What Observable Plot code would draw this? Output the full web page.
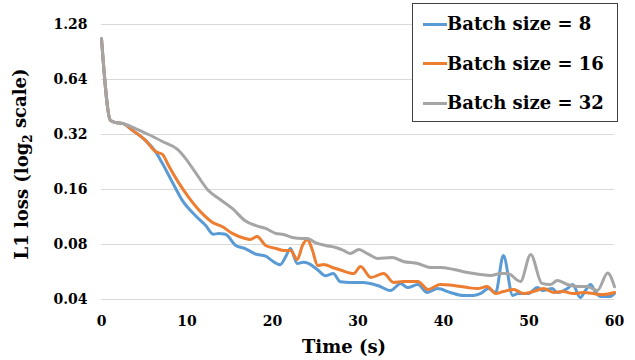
<!DOCTYPE html>
<html>
<head>
<meta charset="utf-8">
<script src="https://cdn.jsdelivr.net/npm/d3@7"></script>
<script src="https://cdn.jsdelivr.net/npm/@observablehq/plot@0.6"></script>
<style>
  body { margin: 0; background: #fff; }
  #wrap { position: relative; width: 635px; height: 360px; font-family: "DejaVu Serif", serif; font-weight: bold; }
  #legend { position: absolute; left: 412px; top: 3px; width: 204px; height: 117px; border: 1px solid #404040; background: #fff; }
  .row { position: absolute; left: 0; height: 0; }
  .swatch { position: absolute; left: 10px; top: -1.5px; width: 24px; height: 3px; }
  .lbl { position: absolute; left: 34px; top: -12px; font-size: 18px; line-height: 24px; white-space: nowrap; color: #000; }
</style>
</head>
<body>
<div id="wrap"></div>
<script>
const seriesNames = ["Batch size = 8", "Batch size = 16", "Batch size = 32"];
const seriesColors = ["#5B9BD5", "#ED7D31", "#A5A5A5"];

const time8 = [0,1.05,1.64,2.46,3.63,5.15,6.32,7.13,8.3,9.47,11.0,12.16,13.1,13.7,14.5,15.7,16.8,18.0,19.2,20.0,20.9,21.5,22.1,22.9,23.6,24.2,25.3,26.2,27.1,27.95,29.1,30.6,32.3,33.8,35.0,35.8,37.0,38.1,39.3,40.8,42.3,43.5,44.3,45.3,46.1,47.0,48.1,48.7,49.9,51.0,51.6,52.7,53.3,54.5,55.1,56.0,56.6,57.2,57.8,58.4,59.5,60];
const loss8 = [1.07,0.382,0.372,0.368,0.337,0.297,0.258,0.222,0.175,0.139,0.115,0.102,0.091,0.092,0.091,0.079,0.076,0.071,0.069,0.065,0.062,0.068,0.076,0.063,0.064,0.063,0.058,0.054,0.0555,0.050,0.0496,0.0496,0.0477,0.0448,0.0489,0.0465,0.0483,0.0437,0.0459,0.0437,0.0421,0.0421,0.0431,0.0459,0.0437,0.0696,0.0421,0.0431,0.0431,0.0465,0.0448,0.0459,0.0437,0.0459,0.0483,0.041,0.0448,0.0483,0.0437,0.0415,0.0415,0.0431];

const time16 = [0,1.05,1.64,2.46,3.63,5.15,6.32,7.13,7.84,9.0,10.2,11.8,13.0,14.15,15.3,16.8,17.4,18.2,19.2,20.4,21.3,22.1,22.9,23.5,24.1,24.6,25.3,26.0,27.0,27.95,29.5,30.3,31.5,33.0,34.15,35.3,37.0,38.2,39.6,41.2,42.8,44.0,45.1,46.1,47.0,48.2,49.4,50.5,51.7,52.9,54.0,55.2,56.4,57.5,58.7,60];
const loss16 = [1.07,0.382,0.372,0.368,0.337,0.297,0.258,0.249,0.2165,0.175,0.145,0.118,0.1055,0.100,0.092,0.0863,0.0852,0.0885,0.079,0.0761,0.0742,0.0742,0.0662,0.079,0.0852,0.0761,0.0614,0.0622,0.0599,0.058,0.0555,0.0606,0.0528,0.0555,0.0496,0.0502,0.0502,0.0454,0.0483,0.0477,0.0465,0.0459,0.0471,0.0431,0.0442,0.0454,0.0431,0.0442,0.0459,0.0437,0.0442,0.0431,0.0437,0.0431,0.0426,0.0437];

const time32 = [0,1.05,1.64,2.46,3.98,5.5,7.13,8.89,9.82,11.0,12.5,13.7,15.3,16.8,18.0,19.2,20.4,21.3,22.3,23.5,24.1,25.0,26.2,27.4,28.3,29.1,30.1,31.1,32.3,34.0,35.3,37.0,38.5,39.6,41.2,42.8,44.3,45.5,46.7,47.5,49.0,50.2,51.5,52.5,53.3,54.5,55.7,56.8,58.0,59.2,60];
const loss32 = [1.07,0.382,0.372,0.368,0.345,0.32,0.293,0.265,0.237,0.198,0.158,0.143,0.126,0.108,0.1017,0.0979,0.0919,0.0907,0.0874,0.0863,0.0863,0.082,0.079,0.077,0.0742,0.0714,0.0751,0.0714,0.0671,0.0679,0.0646,0.063,0.0599,0.0599,0.0584,0.0562,0.0548,0.0541,0.0555,0.0555,0.0502,0.0705,0.049,0.0483,0.0508,0.0483,0.0471,0.0471,0.0448,0.0558,0.047];

const xTicks = [0, 10, 20, 30, 40, 50, 60];
const yTicks = [0.04, 0.08, 0.16, 0.32, 0.64, 1.28];
const yTickLabels = ["0.04", "0.08", "0.16", "0.32", "0.64", "1.28"];
const xLabel = "Time (s)";
const yLabelParts = ["L1 loss (log", "2", " scale)"];

const rows = [];
[[time8, loss8], [time16, loss16], [time32, loss32]].forEach(([ts, vs], i) => {
  ts.forEach((t, j) => rows.push({series: seriesNames[i], t, v: vs[j]}));
});

const chart = Plot.plot({
  width: 635,
  height: 360,
  marginLeft: 101,
  marginRight: 21,
  marginTop: 24,
  marginBottom: 61,
  style: { fontFamily: "'DejaVu Serif', serif", fontWeight: "bold", color: "#000", background: "#fff" },
  x: { domain: [0, 60] },
  y: { type: "log", base: 2, domain: [0.04, 1.28] },
  color: { domain: seriesNames, range: seriesColors },
  marks: [
    Plot.gridY(yTicks, { stroke: "#d9d9d9", strokeOpacity: 1, strokeWidth: 1 }),
    Plot.axisY(yTicks, { tickSize: 0, tickPadding: 14, fontSize: 14, label: null,
      tickFormat: d => yTickLabels[yTicks.indexOf(d)] }),
    Plot.axisX(xTicks, { tickSize: 0, tickPadding: 17, fontSize: 14, label: null }),
    Plot.line(rows, { x: "t", y: "v", z: "series", stroke: "series", strokeWidth: 3, curve: "monotone-x" }),
    Plot.text([xLabel], { frameAnchor: "bottom", dy: 53, dx: -14, fontSize: 18, fill: "#000" })
  ]
});

const wrap = document.getElementById("wrap");
wrap.appendChild(chart);

// rotated y-axis title with a real subscript
const svg = d3.select(chart);
const yt = svg.append("text")
  .attr("transform", "translate(28,164) rotate(-90)")
  .attr("text-anchor", "middle")
  .attr("font-size", 18)
  .attr("font-weight", "bold")
  .attr("fill", "#000");
yt.append("tspan").text(yLabelParts[0]);
yt.append("tspan").attr("font-size", 12).attr("dy", "0.35em").text(yLabelParts[1]);
yt.append("tspan").attr("dy", "-0.35em").text(yLabelParts[2]);

const legend = document.createElement("div");
legend.id = "legend";
const centers = [20, 59.5, 99];
seriesNames.forEach((name, i) => {
  const row = document.createElement("div");
  row.className = "row";
  row.style.top = centers[i] + "px";
  const sw = document.createElement("div");
  sw.className = "swatch";
  sw.style.background = seriesColors[i];
  const lb = document.createElement("div");
  lb.className = "lbl";
  lb.textContent = name;
  row.appendChild(sw);
  row.appendChild(lb);
  legend.appendChild(row);
});
wrap.appendChild(legend);
</script>
</body>
</html>
